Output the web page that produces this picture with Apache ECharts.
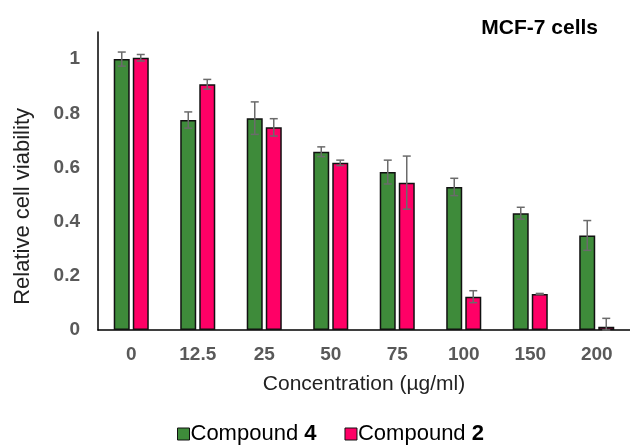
<!DOCTYPE html>
<html><head><meta charset="utf-8">
<script src="https://cdn.jsdelivr.net/npm/echarts@6/dist/echarts.min.js"></script>
<style>html,body{margin:0;padding:0;background:#fff}#c{width:630px;height:446px}</style>
</head><body><div id="c"></div>
<script>
const categories = ['0','12.5','25','50','75','100','150','200'];
const compound4 = [1.0, 0.775, 0.782, 0.658, 0.583, 0.528, 0.431, 0.349];
const compound4Err = [0.026, 0.03, 0.06, 0.018, 0.044, 0.032, 0.022, 0.055];
const compound2 = [1.005, 0.907, 0.748, 0.617, 0.544, 0.123, 0.133, 0.012];
const compound2Err = [0.012, 0.018, 0.032, 0.01, 0.098, 0.022, 0.002, 0.031];

const chart = echarts.init(document.getElementById('c'), null, {renderer:'canvas'});
const FONT = 'Liberation Sans, Arial, sans-serif';
const barW = 16, gap = 3;

function errSeries(vals, errs, idx) {
  return {
    type: 'custom',
    z: 10,
    data: vals.map((v,i)=>[i, v, errs[i]]),
    renderItem: function(params, api) {
      const i = api.value(0), v = api.value(1), e = api.value(2);
      const c = api.coord([i, v]);
      const off = (idx === 0 ? -1 : 1) * (barW + gap) / 2;
      const x = c[0] + off;
      const top = api.coord([i, v + e])[1];
      const bot = api.coord([i, Math.max(0, v - e)])[1];
      const st = {stroke:'#6b6b6b', lineWidth:1.5};
      return {type:'group', children:[
        {type:'line', shape:{x1:x,y1:top,x2:x,y2:bot}, style:st},
        {type:'line', shape:{x1:x-4,y1:top,x2:x+4,y2:top}, style:st},
        {type:'line', shape:{x1:x-4,y1:bot,x2:x+4,y2:bot}, style:st}
      ]};
    }
  };
}

chart.setOption({
  animation:false,
  textStyle:{fontFamily:FONT},
  title:{text:'MCF-7 cells', right:27, top:13, textStyle:{fontFamily:FONT, fontSize:21, fontWeight:'bold', color:'#000'}},
  grid:{left:98, right:0, top:32, bottom:116},
  legend:{
    top:418, left:172, itemWidth:12, itemHeight:12, itemGap:28,
    data:['Compound 4','Compound 2'],
    icon:'rect',
    itemStyle:{borderColor:'#111', borderWidth:1},
    formatter:function(n){ const p=n.split(' '); return '{a|'+p[0]+' }{b|'+p[1]+'}'; },
    textStyle:{fontFamily:FONT, fontSize:22, color:'#000', padding:[0,0,0,-4],
      rich:{a:{fontFamily:FONT,fontSize:22,color:'#000'}, b:{fontFamily:FONT,fontSize:22,fontWeight:'bold',color:'#000'}}}
  },
  xAxis:{
    type:'category', data:categories,
    axisLine:{lineStyle:{color:'#000', width:1.5}},
    axisTick:{show:false},
    axisLabel:{color:'#595959', fontSize:19, fontWeight:'bold', margin:15, fontFamily:FONT},
    name:'Concentration (µg/ml)', nameLocation:'middle', nameGap:44,
    nameTextStyle:{color:'#222', fontSize:21, fontFamily:FONT}
  },
  yAxis:{
    type:'value', min:0, max:1.1, interval:0.2,
    splitLine:{show:false},
    axisLine:{show:true, lineStyle:{color:'#000', width:1.5}},
    axisTick:{show:false},
    axisLabel:{color:'#595959', fontSize:19, fontWeight:'bold', margin:18, fontFamily:FONT,
      formatter:function(v){ return v>1.05 ? '' : String(Math.round(v*10)/10); }}
  },
  graphic:[{type:'text', left:12, top:108, rotation:Math.PI/2, style:{text:'Relative cell viability', fontFamily:FONT, fontSize:22, fill:'#222'}}],
  series:[
    {name:'Compound 4', type:'bar', data:compound4, barWidth:barW, barGap:'19%',
     itemStyle:{color:'#3e8b3a', borderColor:'#111', borderWidth:1.5}},
    {name:'Compound 2', type:'bar', data:compound2, barWidth:barW, barGap:'19%',
     itemStyle:{color:'#ff0066', borderColor:'#111', borderWidth:1.5}},
    errSeries(compound4, compound4Err, 0),
    errSeries(compound2, compound2Err, 1)
  ]
});
</script></body></html>
